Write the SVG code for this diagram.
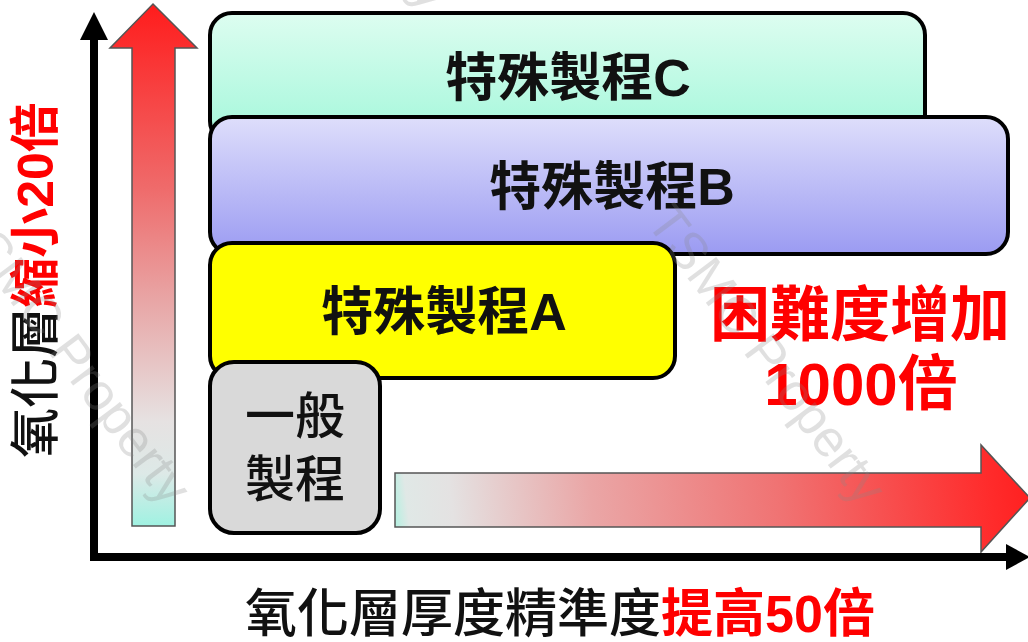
<svg xmlns="http://www.w3.org/2000/svg" width="1028" height="642" viewBox="0 0 1028 642">
  <style>
    .t { font-family: "Liberation Sans", "Noto Sans CJK TC", sans-serif; }
    .box { stroke: #000; stroke-width: 4; }
    .title { font-size: 52px; font-weight: bold; fill: #111; text-anchor: middle; }
    .red { fill: #ff0000; font-weight: bold; }
    .blk { fill: #111; font-weight: 500; }
    .wm { font-family: "Liberation Sans", sans-serif; font-size: 52px; fill: #888; opacity: 0.25; }
    .garrow { stroke: #555; stroke-width: 1.5; }
  </style>
  <defs>
    <linearGradient id="gC" x1="0" y1="0" x2="0" y2="1">
      <stop offset="0" stop-color="#ddfdf0"/>
      <stop offset="1" stop-color="#a2f7da"/>
    </linearGradient>
    <linearGradient id="gB" x1="0" y1="0" x2="0" y2="1">
      <stop offset="0" stop-color="#dedefb"/>
      <stop offset="1" stop-color="#9b9bf2"/>
    </linearGradient>
    <linearGradient id="gV" gradientUnits="userSpaceOnUse" x1="0" y1="4" x2="0" y2="526">
      <stop offset="0" stop-color="#ff1c1c"/>
      <stop offset="0.35" stop-color="#ef6a6a"/>
      <stop offset="0.57" stop-color="#e8a6a6"/>
      <stop offset="0.8" stop-color="#e6e2e2"/>
      <stop offset="0.9" stop-color="#dde9e7"/>
      <stop offset="1" stop-color="#a0f2e2"/>
    </linearGradient>
    <linearGradient id="gH" gradientUnits="userSpaceOnUse" x1="392" y1="540" x2="1020" y2="470">
      <stop offset="0" stop-color="#a5f3df"/>
      <stop offset="0.03" stop-color="#e0e8e6"/>
      <stop offset="0.1" stop-color="#e4e2e2"/>
      <stop offset="0.32" stop-color="#eaa6a6"/>
      <stop offset="0.62" stop-color="#f07272"/>
      <stop offset="0.95" stop-color="#ff2b2b"/>
      <stop offset="1" stop-color="#ff2222"/>
    </linearGradient>
  </defs>

  <rect width="1028" height="642" fill="#ffffff"/>

  <!-- gradient arrows -->
  <g id="arrow-vertical">
    <polygon class="garrow" fill="url(#gV)" points="153,4 197,48 175,48 175,526 132,526 132,48 110,48"/>
  </g>
  <g id="arrow-horizontal">
    <polygon class="garrow" fill="url(#gH)" points="395,473 981,473 981,445 1030,498 981,552 981,527 395,527"/>
  </g>

  <!-- axes -->
  <g id="connectors">
    <line x1="94" y1="36" x2="94" y2="561" stroke="#000" stroke-width="8"/>
    <polygon points="94,12 80,40 108,40" fill="#000"/>
    <line x1="90" y1="557" x2="1010" y2="557" stroke="#000" stroke-width="8"/>
    <polygon points="1030,557 1006,544 1006,570" fill="#000"/>
  </g>

  <!-- process boxes -->
  <g id="node-c">
    <rect class="box" x="210" y="13" width="715" height="130" rx="22" fill="url(#gC)"/>
    <text class="t title" x="568" y="96">特殊製程C</text>
  </g>
  <g id="node-b">
    <rect class="box" x="210" y="117" width="798" height="137" rx="22" fill="url(#gB)"/>
    <text class="t title" x="612" y="205">特殊製程B</text>
  </g>
  <g id="node-a">
    <rect class="box" x="210" y="243" width="465" height="135" rx="22" fill="#ffff00"/>
    <text class="t title" x="444" y="330">特殊製程A</text>
  </g>
  <g id="node-general">
    <rect class="box" x="210" y="362" width="170" height="171" rx="24" fill="#d9d9d9"/>
    <text class="t blk" x="295" y="434" font-size="50" text-anchor="middle">一般</text>
    <text class="t blk" x="295" y="497" font-size="50" text-anchor="middle">製程</text>
  </g>

  <!-- annotations -->
  <g id="label-difficulty">
    <text class="t red" x="860" y="336" font-size="60" text-anchor="middle">困難度增加</text>
    <text class="t red" x="861" y="405" font-size="60" text-anchor="middle">1000倍</text>
  </g>
  <g id="label-x">
    <text class="t" x="560" y="632" font-size="52" text-anchor="middle"><tspan class="blk">氧化層厚度精準度</tspan><tspan class="red">提高50倍</tspan></text>
  </g>
  <g id="label-y">
    <text class="t" transform="translate(53,280) rotate(-90)" x="0" y="0" font-size="50" text-anchor="middle"><tspan class="blk">氧化層</tspan><tspan class="red">縮小20倍</tspan></text>
  </g>

  <!-- watermark -->
  <g id="watermark">
    <text class="wm" transform="translate(645,222) rotate(53)">TSMC Property</text>
    <text class="wm" transform="translate(-50,222) rotate(53)">TSMC Property</text>
    <text class="wm" transform="translate(210,-273) rotate(53)">TSMC Property</text>
  </g>
</svg>
